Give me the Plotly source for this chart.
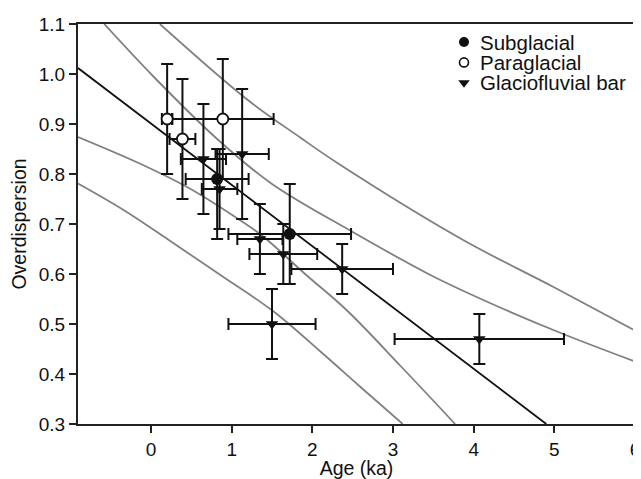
import plotly.graph_objects as go

# ---- data ----
sub_x = [0.82, 1.72]
sub_y = [0.79, 0.68]
sub_xerr = [0.39, 0.76]
sub_yerr_plus = [0.06, 0.10]
sub_yerr_minus = [0.12, 0.10]

para_x = [0.20, 0.39, 0.89]
para_y = [0.91, 0.87, 0.91]
para_xerr = [0.065, 0.16, 0.63]
para_yerr = [0.11, 0.12, 0.12]

gf_x = [0.65, 1.13, 0.85, 1.35, 1.64, 1.50, 2.37, 4.07]
gf_y = [0.83, 0.84, 0.77, 0.67, 0.64, 0.50, 0.61, 0.47]
gf_xerr = [0.28, 0.33, 0.22, 0.28, 0.42, 0.54, 0.63, 1.05]
gf_yerr_plus = [0.11, 0.13, 0.08, 0.07, 0.06, 0.07, 0.05, 0.05]
gf_yerr_minus = [0.11, 0.13, 0.08, 0.07, 0.06, 0.07, 0.05, 0.05]

fit_x = [-0.905, 4.90]
fit_y = [1.012, 0.30]

curve1_x = [0.11, 1.20, 1.85, 2.32, 3.87, 4.99, 6.0]
curve1_y = [1.10, 0.948, 0.873, 0.821, 0.668, 0.574, 0.487]
curve2_x = [-0.58, 0.03, 0.82, 1.50, 2.49, 3.50, 4.30, 5.11, 6.0]
curve2_y = [1.10, 0.995, 0.870, 0.780, 0.685, 0.595, 0.535, 0.480, 0.425]
curve3_x = [-0.905, -0.14, 0.48, 1.10, 1.39, 1.91, 2.43, 3.10, 3.77]
curve3_y = [0.874, 0.821, 0.771, 0.708, 0.675, 0.600, 0.527, 0.415, 0.30]
curve4_x = [-0.905, -0.34, 0.22, 0.86, 1.52, 2.10, 2.59, 3.12]
curve4_y = [0.781, 0.728, 0.668, 0.598, 0.525, 0.445, 0.375, 0.30]

x_ticks = [0, 1, 2, 3, 4, 5, 6]
y_ticks = [0.3, 0.4, 0.5, 0.6, 0.7, 0.8, 0.9, 1.0, 1.1]

legend_names = ["Subglacial", "Paraglacial", "Glaciofluvial bar"]

FONT = "Liberation Sans, Arial, sans-serif"
GRAY = "#808080"
BLK = "#111111"

fig = go.Figure()

for cx, cy in [(curve1_x, curve1_y), (curve2_x, curve2_y),
               (curve3_x, curve3_y), (curve4_x, curve4_y)]:
    fig.add_trace(go.Scatter(x=cx, y=cy, mode="lines", line=dict(color=GRAY, width=1.8, shape="spline"),
                             showlegend=False, hoverinfo="skip"))

fig.add_trace(go.Scatter(x=fit_x, y=fit_y, mode="lines", line=dict(color=BLK, width=1.8),
                         showlegend=False, hoverinfo="skip"))

err_style = dict(color=BLK, thickness=2, width=6)

sub_marker = dict(symbol="circle", size=12, color=BLK)
para_marker = dict(symbol="circle", size=11, color="white", line=dict(color=BLK, width=1.8))
gf_marker = dict(symbol="triangle-down", size=11, color=BLK)

fig.add_trace(go.Scatter(
    x=sub_x, y=sub_y, mode="markers", name=legend_names[0], marker=sub_marker, showlegend=False,
    error_x=dict(type="data", array=sub_xerr, **err_style),
    error_y=dict(type="data", array=sub_yerr_plus, arrayminus=sub_yerr_minus, **err_style)))

fig.add_trace(go.Scatter(
    x=para_x, y=para_y, mode="markers", name=legend_names[1], marker=para_marker, showlegend=False,
    error_x=dict(type="data", array=para_xerr, **err_style),
    error_y=dict(type="data", array=para_yerr, **err_style)))

fig.add_trace(go.Scatter(
    x=gf_x, y=gf_y, mode="markers", name=legend_names[2], marker=gf_marker, showlegend=False,
    error_x=dict(type="data", array=gf_xerr, **err_style),
    error_y=dict(type="data", array=gf_yerr_plus, arrayminus=gf_yerr_minus, **err_style)))

# ---- compact legend (tight row spacing like the reference) on a hidden overlay axis ----
leg_x = 0.693          # symbol column (fraction of plot width)
leg_text_x = 0.718     # text column
leg_rows = [0.955, 0.904, 0.853]
leg_markers = [dict(symbol="circle", size=10, color=BLK),
               dict(symbol="circle", size=9, color="white", line=dict(color=BLK, width=1.6)),
               dict(symbol="triangle-down", size=10, color=BLK)]
for row, mk in zip(leg_rows, leg_markers):
    fig.add_trace(go.Scatter(x=[leg_x], y=[row], xaxis="x2", yaxis="y2", mode="markers",
                             marker=mk, showlegend=False, hoverinfo="skip"))
for row, name in zip(leg_rows, legend_names):
    fig.add_annotation(x=leg_text_x, y=row, xref="paper", yref="paper", text=name,
                       showarrow=False, xanchor="left", yanchor="middle",
                       font=dict(family=FONT, size=20.5, color=BLK))

axis_common = dict(showline=True, linecolor="#222222", linewidth=2, mirror=True,
                   ticks="outside", ticklen=7, tickwidth=2, tickcolor="#222222",
                   showgrid=False, zeroline=False, automargin=False,
                   tickfont=dict(family=FONT, size=19, color=BLK))

fig.update_xaxes(range=[-0.905, 6.0], tickvals=x_ticks,
                 title=dict(text="Age (ka)", font=dict(family=FONT, size=19.5, color=BLK), standoff=4),
                 **axis_common)
fig.update_yaxes(range=[0.3, 1.1], tickvals=y_ticks, tickformat=".1f",
                 title=dict(text="Overdispersion", font=dict(family=FONT, size=19.5, color=BLK), standoff=8),
                 **axis_common)

# the page body adds an 8 px offset, so the figure is 8 px smaller and margins shifted
fig.update_layout(
    width=633, height=471,
    margin=dict(l=70, r=6, t=16, b=55),
    paper_bgcolor="white", plot_bgcolor="white",
    font=dict(family=FONT, color=BLK),
    showlegend=False,
    xaxis2=dict(range=[0, 1], overlaying="x", visible=False, automargin=False),
    yaxis2=dict(range=[0, 1], overlaying="y", visible=False, automargin=False),
)

fig.write_html("out.html")
